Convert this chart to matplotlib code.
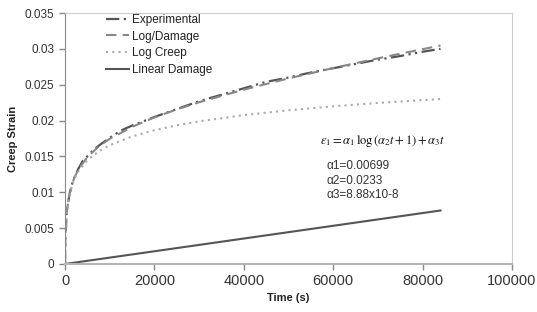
import matplotlib
matplotlib.use("Agg")
import matplotlib.pyplot as plt

plt.rcParams['font.family'] = ['Liberation Sans', 'DejaVu Sans']
plt.rcParams['mathtext.fontset'] = 'stix'

# Time points (s)
t_model = [0, 100, 500, 1000, 2000, 3000, 5000, 7500, 10000, 15000, 20000,
           25000, 30000, 40000, 50000, 60000, 70000, 84000]
log_creep = [0, 0.00365, 0.00770, 0.00969, 0.01173, 0.01294, 0.01447, 0.01569,
             0.01656, 0.01779, 0.01866, 0.01933, 0.01989, 0.02076, 0.02144,
             0.02199, 0.02246, 0.02301]
log_damage = [0, 0.00366, 0.00774, 0.00978, 0.01191, 0.01321, 0.01491, 0.01636,
              0.01745, 0.01912, 0.02044, 0.02155, 0.02255, 0.02431, 0.02588,
              0.02732, 0.02868, 0.03047]
t_linear = [0, 84000]
linear_damage = [0, 0.00746]

t_exp = [0, 50, 200, 500, 1000, 1500, 2000, 3000, 4000, 5000, 6500, 8000, 10000,
         12500, 15000, 17500, 20000, 25000, 30000, 35000, 40000, 45000, 50000,
         55000, 60000, 65000, 70000, 75000, 80000, 84000]
experimental = [0, 0.0045, 0.0060, 0.0078, 0.0097, 0.0110, 0.0119, 0.0133, 0.0144,
                0.0150, 0.0160, 0.0167, 0.0176, 0.0186, 0.0193, 0.0199, 0.0205,
                0.0216, 0.0227, 0.0236, 0.0245, 0.0254, 0.0260, 0.0267, 0.0273,
                0.0279, 0.0285, 0.0290, 0.0296, 0.0300]

x_ticks = [0, 20000, 40000, 60000, 80000, 100000]
y_ticks = [0, 0.005, 0.01, 0.015, 0.02, 0.025, 0.03, 0.035]
y_ticklabels = ['0', '0.005', '0.01', '0.015', '0.02', '0.025', '0.03', '0.035']

fig = plt.figure(figsize=(5.37, 3.12), dpi=100)
ax = fig.add_axes([65/537, 1 - 264/312, (512 - 65)/537, (264 - 13)/312])

ax.plot(t_exp, experimental, color='#555555', lw=1.6,
        dashes=(6, 2, 1, 2, 1, 2), label='Experimental')
ax.plot(t_model, log_damage, color='#888888', lw=1.5, dashes=(5, 3),
        label='Log/Damage')
ax.plot(t_model, log_creep, color='#aaaaaa', lw=1.5, linestyle=(0, (1, 2)),
        label='Log Creep')
ax.plot(t_linear, linear_damage, color='#555555', lw=1.5, label='Linear Damage')

ax.set_xlim(0, 100000)
ax.set_ylim(0, 0.035)
ax.set_xticks(x_ticks)
ax.set_xticklabels([str(v) for v in x_ticks], fontsize=10.5, color='#333333')
ax.set_yticks(y_ticks)
ax.set_yticklabels(y_ticklabels, fontsize=8.5, color='#333333')
ax.tick_params(axis='both', direction='out', length=4, color='#888888', width=1)

for s in ['top', 'right']:
    ax.spines[s].set_color('#cccccc')
    ax.spines[s].set_linewidth(0.8)
ax.spines['left'].set_color('#888888')
ax.spines['bottom'].set_color('#b5b5b5')
ax.spines['bottom'].set_linewidth(1.5)

ax.set_xlabel('Time (s)', fontsize=8, fontweight='bold', labelpad=3, color='#222222')
ax.set_ylabel('Creep Strain', fontsize=8, fontweight='bold', labelpad=5, color='#222222')

leg = ax.legend(loc='upper left', bbox_to_anchor=(0.075, 1.025), frameon=False,
                fontsize=8.5, handlelength=2.0, handletextpad=0.2,
                labelspacing=0.4, borderaxespad=0.2)
for txt in leg.get_texts():
    txt.set_color('#222222')

ax.text(0.57, 0.49,
        r'$\varepsilon_1 = \alpha_1\,\log\left(\alpha_2 t+1\right)+\alpha_3 t$',
        transform=ax.transAxes, fontsize=9, color='#111111', ha='left', va='center')
ax.text(0.585, 0.415, 'α1=0.00699\nα2=0.0233\nα3=8.88x10-8',
        transform=ax.transAxes, fontsize=8.5, color='#333333', ha='left',
        va='top', linespacing=1.3)

fig.savefig('out.png', dpi=100)
